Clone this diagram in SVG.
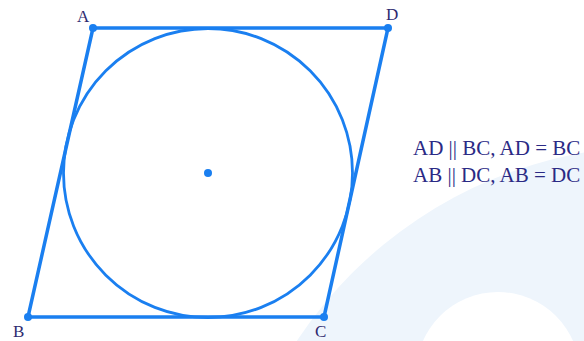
<svg xmlns="http://www.w3.org/2000/svg" width="584" height="341" viewBox="0 0 584 341">
<style>
.edge{stroke:#1a7ff0;stroke-width:3.5;fill:none;stroke-linecap:round}
.circ{stroke:#1a7ff0;stroke-width:2.8;fill:none}
.pt{fill:#1a7ff0}
.lbl{font-family:"Liberation Serif",serif;font-size:17px;fill:#2e2a70}
.txt{font-family:"Liberation Serif",serif;font-size:21px;fill:#2b2a85}
</style>
<rect width="584" height="341" fill="#ffffff"/>
<g id="background">
<circle cx="659" cy="580" r="434" fill="#eef5fc"/>
<circle cx="498" cy="374" r="82" fill="#ffffff"/>
</g>
<g id="connectors">
<line class="edge" x1="93" y1="28" x2="388" y2="28"/>
<line class="edge" x1="388" y1="28" x2="324" y2="317"/>
<line class="edge" x1="324" y1="317" x2="28" y2="317"/>
<line class="edge" x1="28" y1="317" x2="93" y2="28"/>
</g>
<g id="incircle">
<circle class="circ" cx="208" cy="173" r="144.5"/>
<circle class="pt" cx="208" cy="173" r="4"/>
</g>
<g id="A"><circle class="pt" cx="93" cy="28" r="4"/><text class="lbl" x="77" y="22">A</text></g>
<g id="D"><circle class="pt" cx="388" cy="28" r="4"/><text class="lbl" x="386" y="20">D</text></g>
<g id="B"><circle class="pt" cx="28" cy="317" r="4"/><text class="lbl" x="13" y="337">B</text></g>
<g id="C"><circle class="pt" cx="324" cy="317" r="4"/><text class="lbl" x="315" y="337">C</text></g>
<g id="relations">
<text class="txt" x="413" y="155">AD || BC, AD = BC</text>
<text class="txt" x="413" y="182">AB || DC, AB = DC</text>
</g>
</svg>
